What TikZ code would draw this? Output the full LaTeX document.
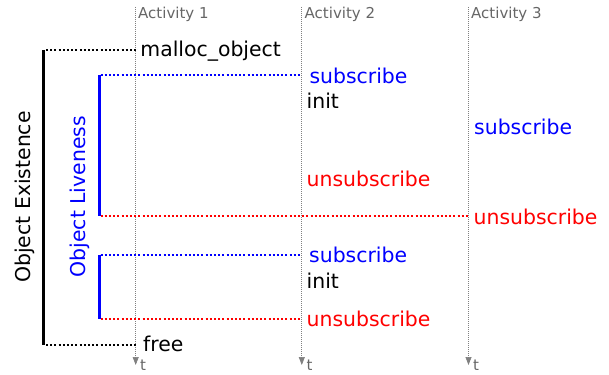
\documentclass[tikz,border=0pt]{standalone}
\usepackage{fontspec}
\setmainfont{DejaVu Sans}
\usetikzlibrary{arrows.meta}
\definecolor{actgray}{HTML}{666666}
\definecolor{linegray}{HTML}{808080}
\begin{document}
\begin{tikzpicture}[x=1pt,y=-1pt,
  big/.style={font=\fontsize{20.4}{24}\selectfont, inner sep=0pt, anchor=base west},
  small/.style={font=\fontsize{15}{18}\selectfont, text=actgray, inner sep=0pt, anchor=base west},
  rotlabel/.style={font=\fontsize{20.4}{24}\selectfont, inner sep=0pt, anchor=base, rotate=90},
  actline/.style={draw=linegray, line width=0.7pt, dash pattern=on 1pt off 1pt, -{Triangle[length=8pt,width=6pt]}},
  dotline/.style={line width=2pt, dash pattern=on 2pt off 2.2pt},
  bar/.style={line width=3pt}]
\useasboundingbox (0,0) rectangle (609,374);

% activity time lines
\coordinate (a1top) at (135.7,7);  \coordinate (a1bot) at (135.7,365);
\coordinate (a2top) at (301.8,7);  \coordinate (a2bot) at (301.8,365);
\coordinate (a3top) at (468.5,7);  \coordinate (a3bot) at (468.5,365);
\draw[actline] (a1top) -- (a1bot);
\draw[actline] (a2top) -- (a2bot);
\draw[actline] (a3top) -- (a3bot);
\node[small] (act1) at (138,18.5) {Activity 1};
\node[small] (act2) at (304.5,18.5) {Activity 2};
\node[small] (act3) at (471,18.5) {Activity 3};
\node[small] (t1) at (140,370) {t};
\node[small] (t2) at (306.5,370) {t};
\node[small] (t3) at (473,370) {t};

% bars
\coordinate (ex1) at (43.3,50);  \coordinate (ex2) at (43.3,344.5);
\draw[bar] (ex1) -- (ex2);
\coordinate (lv1) at (99.5,75);  \coordinate (lv2) at (99.5,216);
\draw[bar, blue] (lv1) -- (lv2);
\coordinate (lv3) at (99.5,254.5);  \coordinate (lv4) at (99.5,319);
\draw[bar, blue] (lv3) -- (lv4);

\node[rotlabel] (exist) at (30.5,197) {Object Existence};
\node[rotlabel, text=blue] (live) at (85.2,196.7) {Object Liveness};

% start points of connectors
\coordinate (s1) at (46,50);
\coordinate (s2) at (100.5,75);
\coordinate (s3) at (100.5,216);
\coordinate (s4) at (100.5,254.5);
\coordinate (s5) at (100.5,319);
\coordinate (s6) at (46,344.5);
% end points on activity lines
\coordinate (p1) at (136.5,50);
\coordinate (p2) at (302,75);
\coordinate (p3) at (468.5,216);
\coordinate (p4) at (302,254.5);
\coordinate (p5) at (302,319);
\coordinate (p6) at (136.5,344.5);

\draw[dotline] (s1) -- (p1);
\draw[dotline, blue] (s2) -- (p2);
\draw[dotline, red] (s3) -- (p3);
\draw[dotline, blue] (s4) -- (p4);
\draw[dotline, red] (s5) -- (p5);
\draw[dotline] (s6) -- (p6);

% event labels
\node[big] (malloc) at (140.2,57) {malloc\_object};
\node[big, text=blue] (sub1) at (309.3,83.3) {subscribe};
\node[big] (init1) at (306.5,108.3) {init};
\node[big, text=red] (unsub1) at (306.5,186) {unsubscribe};
\node[big, text=blue] (sub3) at (474,135) {subscribe};
\node[big, text=red] (unsub3) at (473.5,224) {unsubscribe};
\node[big, text=blue] (sub2) at (309,262.3) {subscribe};
\node[big] (init2) at (306.5,288) {init};
\node[big, text=red] (unsub2) at (306.5,326) {unsubscribe};
\node[big] (free) at (143,351.7) {free};
\end{tikzpicture}
\end{document}
